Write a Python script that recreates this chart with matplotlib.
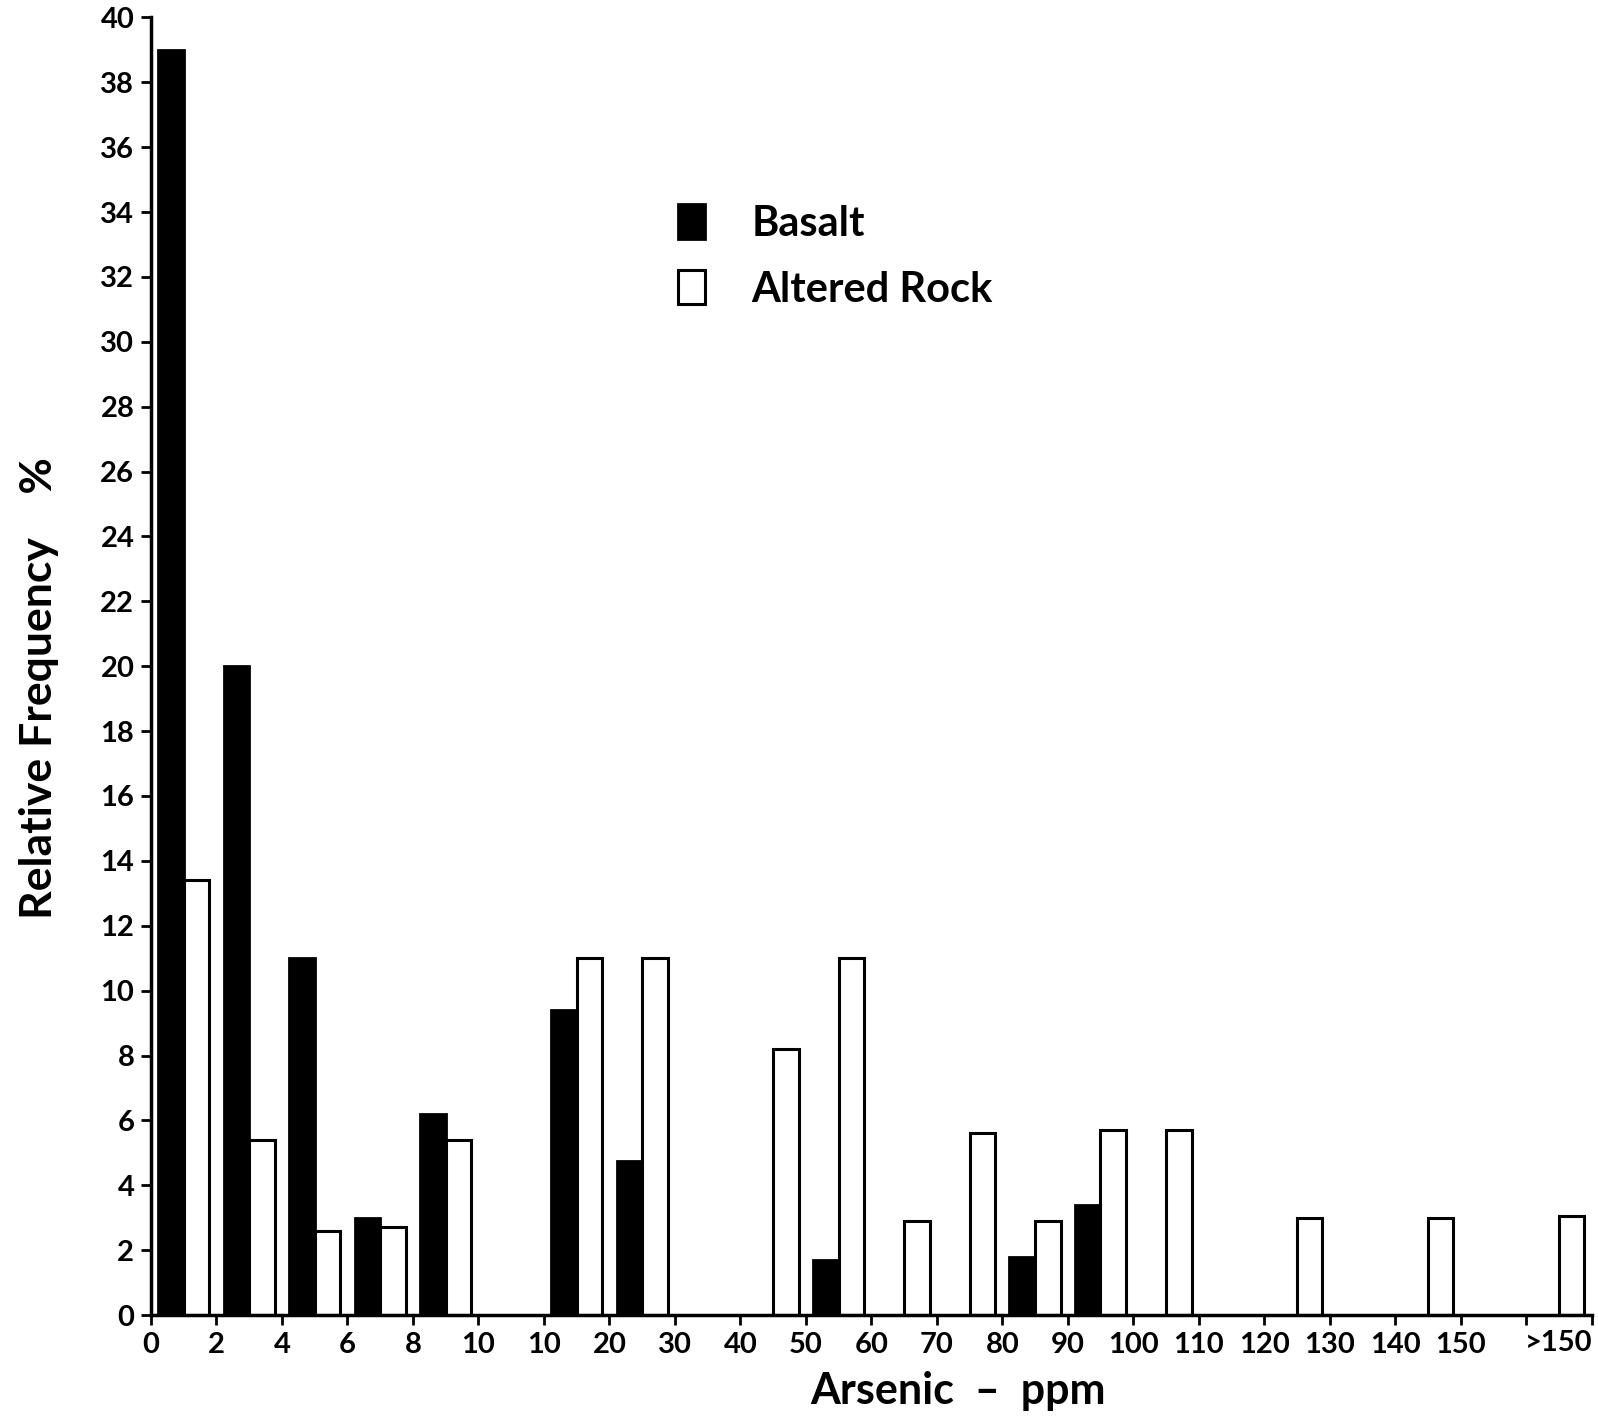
import numpy as np
import matplotlib.pyplot as plt

# bins along the x axis (index of each bin) and the readings per bin
bin_labels = ['0-2', '2-4', '4-6', '6-8', '8-10', 'break', '10-20', '20-30',
              '30-40', '40-50', '50-60', '60-70', '70-80', '80-90', '90-100',
              '100-110', '110-120', '120-130', '130-140', '140-150', '150-?', '>150']
basalt = [39, 20, 11, 3.0, 6.2, 0, 9.4, 4.75, 0, 0, 1.7, 0, 0, 1.8, 3.4,
          0, 0, 0, 0, 0, 0, 0]
altered = [13.4, 5.4, 2.6, 2.7, 5.4, 0, 11, 11, 0, 8.2, 11, 2.9, 5.6, 2.9, 5.7,
           5.7, 0, 3.0, 0, 3.0, 0, 3.05]
tick_labels = ['0', '2', '4', '6', '8', '10', '10', '20', '30', '40', '50', '60',
               '70', '80', '90', '100', '110', '120', '130', '140', '150', '', '']
y_ticks = list(range(0, 42, 2))

plt.rcParams['font.family'] = ['Lato', 'DejaVu Sans']
plt.rcParams['font.weight'] = 'bold'

fig = plt.figure(figsize=(15.98, 14.22), dpi=100)
ax = fig.add_axes([0.0945, 0.0752, 0.9015, 0.9126])

x = np.arange(len(bin_labels)) + 0.5
w = 0.39
b1 = ax.bar(x, basalt, width=-w, align='edge', color='black', edgecolor='black', linewidth=2)
b2 = ax.bar(x, altered, width=w, align='edge', color='white', edgecolor='black', linewidth=2.2)
# hide empty bars
for r in list(b1) + list(b2):
    if r.get_height() == 0:
        r.set_visible(False)

ax.set_xlim(0, 22)
ax.set_ylim(0, 40)
ax.set_xticks(range(23))
ax.set_xticklabels(tick_labels, fontsize=21, fontweight='bold')
ax.set_yticks(y_ticks)
ax.set_yticklabels([str(v) for v in y_ticks], fontsize=21, fontweight='bold')
ax.text(21.5, -0.45, '>150', ha='center', va='top', fontsize=21, fontweight='bold')

for s in ['top', 'right']:
    ax.spines[s].set_visible(False)
for s in ['left', 'bottom']:
    ax.spines[s].set_linewidth(2.5)
ax.tick_params(axis='both', direction='out', length=7, width=2, pad=5)

ax.set_ylabel('Relative Frequency    %', fontsize=32, fontweight='bold')
ax.yaxis.set_label_coords(-0.064, 0.483)
ax.set_xlabel('Arsenic  –  ppm', fontsize=31, fontweight='bold')
ax.xaxis.set_label_coords(0.56, -0.043)

leg = ax.legend([b1, b2], ['Basalt', 'Altered Rock'], loc='upper left',
                bbox_to_anchor=(0.34, 0.885), frameon=False,
                prop={'size': 30, 'weight': 'bold'},
                handlelength=0.65, handleheight=0.9, handletextpad=1.1, labelspacing=0.65)

fig.savefig('out.png', dpi=100)
